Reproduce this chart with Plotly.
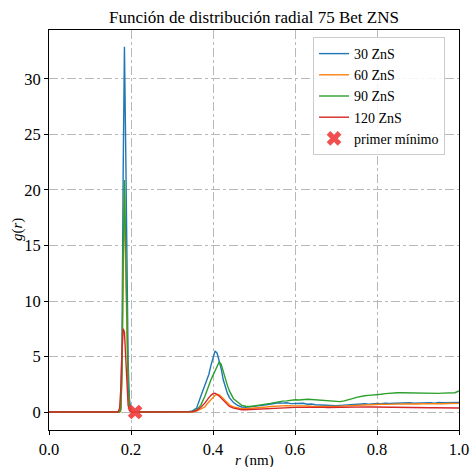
import plotly.graph_objects as go

# radial distances (nm)
r = [0.0, 0.168, 0.172, 0.175, 0.178, 0.181, 0.184, 0.187, 0.19, 0.193, 0.196, 0.2, 0.205,
     0.33, 0.34, 0.35, 0.36, 0.37, 0.38, 0.385, 0.39, 0.395, 0.4, 0.405, 0.41, 0.415, 0.42,
     0.425, 0.43, 0.435, 0.44, 0.45, 0.46, 0.47, 0.48, 0.49, 0.5,
     0.51, 0.52, 0.53, 0.54, 0.55, 0.56, 0.57, 0.58, 0.59, 0.6,
     0.61, 0.62, 0.63, 0.64, 0.65, 0.66, 0.67, 0.68, 0.69, 0.7,
     0.71, 0.72, 0.73, 0.74, 0.75, 0.76, 0.77, 0.78, 0.79, 0.8,
     0.81, 0.82, 0.83, 0.84, 0.85, 0.86, 0.87, 0.88, 0.89, 0.9,
     0.91, 0.92, 0.93, 0.94, 0.95, 0.96, 0.97, 0.98, 0.99, 1.0]

g_30 = [0, 0, 0, 0.4, 6, 22, 32.9, 24, 12, 4.5, 1.2, 0.1, 0,
        0, 0.02, 0.1, 0.35, 1.4, 2.4, 2.9, 3.4, 4.2, 5.0, 5.5, 5.3, 4.7, 3.9,
        2.9, 2.2, 1.7, 1.3, 0.85, 0.6, 0.45, 0.42, 0.45, 0.5,
        0.55, 0.6, 0.66, 0.72, 0.78, 0.84, 0.8, 0.83, 0.76, 0.78,
        0.74, 0.79, 0.7, 0.72, 0.66, 0.64, 0.6, 0.62, 0.56, 0.57,
        0.6, 0.63, 0.66, 0.64, 0.69, 0.72, 0.74, 0.71, 0.76, 0.78,
        0.75, 0.8, 0.77, 0.79, 0.82, 0.78, 0.8, 0.83, 0.79, 0.81,
        0.85, 0.82, 0.84, 0.8, 0.86, 0.83, 0.85, 0.88, 0.84, 0.87]

g_60 = [0, 0, 0, 0.1, 3, 13, 19.5, 13, 6, 2, 0.5, 0.05, 0,
        0, 0, 0, 0.08, 0.25, 0.45, 0.7, 0.9, 1.1, 1.35, 1.5, 1.6, 1.55, 1.4,
        1.2, 1.0, 0.8, 0.65, 0.45, 0.35, 0.3, 0.3, 0.32, 0.35,
        0.38, 0.42, 0.45, 0.5, 0.52, 0.57, 0.55, 0.58, 0.56, 0.57,
        0.55, 0.57, 0.54, 0.52, 0.53, 0.5, 0.52, 0.5, 0.51, 0.51,
        0.53, 0.55, 0.57, 0.6, 0.62, 0.64, 0.66, 0.67, 0.68, 0.69,
        0.7, 0.69, 0.71, 0.7, 0.72, 0.71, 0.73, 0.72, 0.7, 0.72,
        0.74, 0.73, 0.75, 0.74, 0.76, 0.75, 0.77, 0.76, 0.78, 0.78]

g_90 = [0, 0, 0, 0.2, 3.5, 14, 20.9, 15, 7, 2.5, 0.7, 0.05, 0,
        0, 0, 0.05, 0.2, 0.6, 1.4, 1.9, 2.5, 2.9, 3.3, 3.7, 4.1, 4.5, 4.3,
        3.6, 3.0, 2.4, 1.9, 1.2, 0.9, 0.6, 0.52, 0.5, 0.55,
        0.6, 0.62, 0.7, 0.78, 0.85, 0.93, 0.98, 1.0, 1.05, 1.1,
        1.08, 1.12, 1.15, 1.13, 1.1, 1.05, 1.0, 0.97, 0.95, 0.93,
        0.94, 1.0, 1.08, 1.2, 1.32, 1.42, 1.46, 1.5, 1.52, 1.55,
        1.6, 1.66, 1.7, 1.72, 1.74, 1.73, 1.72, 1.74, 1.7, 1.69,
        1.68, 1.7, 1.68, 1.66, 1.68, 1.7, 1.72, 1.7, 1.74, 1.9]

g_120 = [0, 0, 0.3, 2.0, 5.5, 7.5, 7.2, 4.5, 2, 0.6, 0.15, 0, 0,
         0, 0, 0.03, 0.15, 0.4, 0.8, 1.1, 1.3, 1.5, 1.65, 1.7, 1.6, 1.45, 1.25,
         1.05, 0.85, 0.65, 0.5, 0.35, 0.25, 0.2, 0.2, 0.22, 0.25,
         0.28, 0.3, 0.33, 0.35, 0.37, 0.4, 0.41, 0.42, 0.43, 0.42,
         0.42, 0.43, 0.42, 0.41, 0.42, 0.41, 0.42, 0.41, 0.42, 0.42,
         0.43, 0.43, 0.44, 0.44, 0.45, 0.45, 0.45, 0.46, 0.45, 0.45,
         0.45, 0.44, 0.44, 0.43, 0.43, 0.42, 0.42, 0.41, 0.41, 0.4,
         0.4, 0.39, 0.39, 0.38, 0.38, 0.37, 0.37, 0.36, 0.36, 0.36]

series_names = ["30 ZnS", "60 ZnS", "90 ZnS", "120 ZnS"]
series_values = [g_30, g_60, g_90, g_120]
colors = ["#1f77b4", "#ff7f0e", "#2ca02c", "#d62728"]

min_r = [0.21]
min_g = [0.0]

x_ticks = [0.0, 0.2, 0.4, 0.6, 0.8, 1.0]
x_tick_labels = ["0.0", "0.2", "0.4", "0.6", "0.8", "1.0"]
y_ticks = [0, 5, 10, 15, 20, 25, 30]

FONT = "Liberation Serif"

fig = go.Figure()
for name, vals, c in zip(series_names, series_values, colors):
    fig.add_trace(go.Scatter(x=r, y=vals, mode="lines", name=name,
                             line=dict(color=c, width=1.4)))

fig.add_trace(go.Scatter(x=min_r, y=min_g, mode="markers", name="primer mínimo",
                         marker=dict(symbol="x", size=13, color="rgba(240,60,60,0.9)",
                                     line=dict(width=0))))

axis_common = dict(
    showline=True, mirror=True, linecolor="black", linewidth=1,
    ticks="outside", ticklen=4, tickcolor="black",
    showgrid=True, gridcolor="#b8b8b8", griddash="dashdot", gridwidth=1,
    zeroline=False, automargin=False,
    tickfont=dict(family=FONT, size=16.5, color="black"),
)

fig.update_layout(
    width=471, height=467,
    margin=dict(l=49, r=12, t=30, b=37),
    paper_bgcolor="white", plot_bgcolor="white",
    font=dict(family=FONT, color="black"),
    title=dict(text="Función de distribución radial 75 Bet ZNS",
               x=0.5, xref="paper", xanchor="center",
               y=1 - 17 / 467, yref="container", yanchor="middle",
               automargin=False,
               font=dict(family=FONT, size=17, color="black")),
    xaxis=dict(range=[0, 1.0], tickvals=x_ticks, ticktext=x_tick_labels, **axis_common),
    yaxis=dict(range=[-1.62, 34.41], tickvals=y_ticks, **axis_common),
    legend=dict(x=0.644, y=0.9825, xanchor="left", yanchor="top",
                bgcolor="rgba(255,255,255,0.85)", bordercolor="#cccccc", borderwidth=1,
                font=dict(family=FONT, size=14, color="black"),
                itemwidth=30, tracegroupgap=0),
    showlegend=True,
    annotations=[
        dict(text="<i>r</i> (nm)", xref="paper", yref="paper", x=0.5, y=-31 / 400,
             xanchor="center", yanchor="middle", showarrow=False,
             font=dict(family=FONT, size=15, color="black")),
        dict(text="<i>g</i>(<i>r</i>)", xref="paper", yref="paper", x=-32 / 410, y=0.5,
             xanchor="center", yanchor="middle", showarrow=False, textangle=-90,
             font=dict(family=FONT, size=15, color="black")),
    ],
)

fig.write_html("out.html", config={"displayModeBar": False},
               post_script="document.body.style.margin='0';document.body.style.overflow='hidden';")
